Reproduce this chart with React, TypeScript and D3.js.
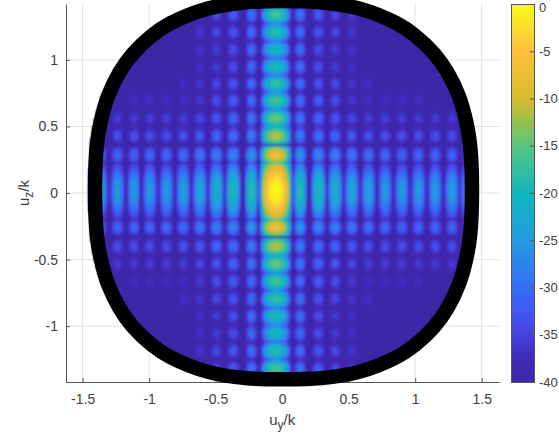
import React, { useEffect, useRef } from 'react';
import * as d3 from 'd3';

const width = 559;
const height = 441;
const margin = { top: 4, right: 60, bottom: 59, left: 66 };
const plotRight = 499;

const xTicks = [-1.5, -1, -0.5, 0, 0.5, 1, 1.5];
const yTicks = [-1, -0.5, 0, 0.5, 1];
const colorTicks = [0, -5, -10, -15, -20, -25, -30, -35, -40];

// colormap
const colorStopsDb = [-40, -37, -35, -32, -30, -25, -20, -15, -12, -10, -5, -2, 0];
const colorStops = [
  '#3e26a8', '#412dbe', '#4641e1', '#415af5', '#326ef5', '#239be1', '#0fb6be',
  '#55c582', '#a0c046', '#d7ba2d', '#fdbe3c', '#fae128', '#f9fb14',
];

// beam centre
const beamY = -0.046;
const beamZ = 0.014;

// lobe offsets from the beam centre
const lobeOffsetsY = [0, 0.183, 0.32, 0.445, 0.57, 0.695, 0.82, 0.945, 1.07, 1.195, 1.32, 1.43];
const lobeOffsetsZ = [0, 0.271, 0.414, 0.545, 0.677, 0.808, 0.94, 1.068, 1.199, 1.331];

// half widths of each lobe (null to peak)
const lobeWidthsY = [0.124, 0.056, 0.064, 0.064, 0.064, 0.064, 0.064, 0.064, 0.064, 0.064, 0.064, 0.064];
const lobeWidthsZ = [0.203, 0.07, 0.068, 0.066, 0.066, 0.066, 0.066, 0.066, 0.066, 0.066];

// peak level in dB, one row per lobeOffsetsZ entry, one column per lobeOffsetsY entry
const lobePeaks = [
  [0, -18, -19, -21, -23, -24, -25, -25, -25, -25, -24.5, -27],
  [-7, -25, -27, -28, -29, -30, -30.5, -31, -31, -31, -31, -38],
  [-11, -28, -30, -31, -32.5, -33.5, -34, -34, -34, -34, -34, -40],
  [-14, -29, -31, -33, -35, -36.5, -36.5, -36.5, -37, -37, -37, -40],
  [-16, -30, -32, -34, -37.5, -39.5, -39.5, -39.5, -39.5, -40, -40, -40],
  [-17, -30, -33, -35, -38, -39.5, -40, -40, -40, -40, -40, -40],
  [-19, -30, -34, -37, -39, -40, -40, -40, -40, -40, -40, -40],
  [-20, -30, -34, -37, -39, -40, -40, -40, -40, -40, -40, -40],
  [-18, -30, -33, -35, -38, -40, -40, -40, -40, -40, -40, -40],
  [-16, -29, -32, -35, -37, -39, -40, -40, -40, -40, -40, -40],
];
const floorDb = -40;

// visible-region outline, one quadrant from the top to the right edge
const ringCenterY = 0.01;
const ringCenterZ = 0.021;
const ringQuarterY = [0, 0.283, 0.567, 0.85, 0.992, 1.134, 1.233, 1.318, 1.374, 1.403, 1.417];
const ringQuarterZ = [1.421, 1.412, 1.365, 1.254, 1.16, 1.024, 0.885, 0.708, 0.514, 0.337, 0];

const ringPoints = () => {
  const n = ringQuarterY.length;
  const pts: [number, number][] = [];
  for (let i = 0; i < n; i++) pts.push([ringCenterY + ringQuarterY[i], ringCenterZ + ringQuarterZ[i]]);
  for (let i = n - 2; i >= 0; i--) pts.push([ringCenterY + ringQuarterY[i], ringCenterZ - ringQuarterZ[i]]);
  for (let i = 1; i < n; i++) pts.push([ringCenterY - ringQuarterY[i], ringCenterZ - ringQuarterZ[i]]);
  for (let i = n - 2; i >= 1; i--) pts.push([ringCenterY - ringQuarterY[i], ringCenterZ + ringQuarterZ[i]]);
  return pts;
};

// level at one point of the plane, adding the lobes in power
const levelAt = (uy: number, uz: number) => {
  let power = Math.pow(10, floorDb / 10);
  const dy = Math.abs(uy - beamY);
  const dz = Math.abs(uz - beamZ);
  lobeOffsetsZ.forEach((oz, r) => {
    const fz = Math.abs(dz - oz) / lobeWidthsZ[r];
    if (fz >= 1) return;
    const az = 0.3 + 0.7 * Math.pow(Math.cos((fz * Math.PI) / 2), 1.4);
    lobeOffsetsY.forEach((oy, c) => {
      if (lobePeaks[r][c] <= floorDb) return;
      const fy = Math.abs(dy - oy) / lobeWidthsY[c];
      if (fy >= 1) return;
      const ay = 0.02 + 0.98 * Math.pow(Math.cos((fy * Math.PI) / 2), 1.4);
      power += Math.pow(10, lobePeaks[r][c] / 10) * (az * ay) * (az * ay);
    });
  });
  return 10 * Math.log10(power);
};

const App = () => {
  const svgRef = useRef<SVGSVGElement>(null);

  useEffect(() => {
    const svg = d3.select(svgRef.current);
    svg.selectAll('*').remove();

    const x = d3.scaleLinear().domain([-1.625, 1.63]).range([margin.left, plotRight]);
    const y = d3.scaleLinear().domain([-1.42, 1.42]).range([height - margin.bottom, margin.top]);
    const color = d3.scaleLinear<string>().domain(colorStopsDb).range(colorStops).clamp(true);
    const fontFamily = '"Liberation Sans", Arial, sans-serif';
    const textColor = '#404040';
    const bottom = height - margin.bottom;

    svg.append('filter').attr('id', 'soft')
      .attr('filterUnits', 'userSpaceOnUse')
      .attr('x', 0).attr('y', 0).attr('width', width).attr('height', height)
      .append('feGaussianBlur').attr('stdDeviation', 0.9);

    // grid
    const grid = svg.append('g').attr('stroke', '#e1e1e1').attr('stroke-width', 1);
    xTicks.forEach(t => {
      grid.append('line').attr('x1', x(t)).attr('x2', x(t)).attr('y1', margin.top).attr('y2', bottom);
    });
    yTicks.forEach(t => {
      grid.append('line').attr('x1', margin.left).attr('x2', plotRight).attr('y1', y(t)).attr('y2', y(t));
    });

    // pattern cells, kept inside the visible region
    const ring = ringPoints();
    const shifted = ring.map(p => [p[0] - 0.055, p[1]] as [number, number]);
    const step = 0.015;
    const cells = svg.append('g').attr('filter', 'url(#soft)').attr('shape-rendering', 'crispEdges');
    d3.range(-1.56, 1.5, step).forEach(uy => {
      d3.range(-1.44, 1.48, step).forEach(uz => {
        if (!d3.polygonContains(ring, [uy, uz]) && !d3.polygonContains(shifted, [uy, uz])) return;
        cells.append('rect')
          .attr('x', x(uy - step / 2))
          .attr('y', y(uz + step / 2))
          .attr('width', x(step) - x(0) + 0.3)
          .attr('height', y(0) - y(step) + 0.3)
          .attr('fill', color(levelAt(uy, uz)));
      });
    });

    // axes
    const styleAxis = (g: any, size = 14) => {
      g.selectAll('path').attr('stroke', '#555').attr('stroke-width', 1);
      g.selectAll('line').attr('stroke', '#555');
      g.selectAll('text').attr('fill', textColor).attr('font-size', size).attr('font-family', fontFamily);
    };
    svg.append('g')
      .attr('transform', `translate(0, ${bottom})`)
      .call(d3.axisBottom(x).tickValues(xTicks).tickSizeInner(-4).tickSizeOuter(0).tickPadding(12).tickFormat(d => String(d)))
      .call(styleAxis);
    svg.append('g')
      .attr('transform', `translate(${margin.left}, 0)`)
      .call(d3.axisLeft(y).tickValues(yTicks).tickSizeInner(-4).tickSizeOuter(0).tickPadding(8).tickFormat(d => String(d)))
      .call(styleAxis);

    // ring on top of everything in the plot
    svg.append('path')
      .datum(ring)
      .attr('fill', 'none')
      .attr('stroke', '#000')
      .attr('stroke-width', 14.5)
      .attr('d', d3.line<[number, number]>().x(d => x(d[0])).y(d => y(d[1])).curve(d3.curveCatmullRomClosed));

    // colorbar
    const barLeft = 511;
    const barRight = 534;
    const barY = d3.scaleLinear().domain([-40, 0]).range([bottom, margin.top]);
    const bar = svg.append('g').attr('shape-rendering', 'crispEdges');
    d3.range(-40, 0, 0.25).forEach(v => {
      bar.append('rect')
        .attr('x', barLeft).attr('width', barRight - barLeft)
        .attr('y', barY(v + 0.25)).attr('height', barY(v) - barY(v + 0.25) + 1)
        .attr('fill', color(v + 0.125));
    });
    bar.append('rect')
      .attr('x', barLeft).attr('y', margin.top)
      .attr('width', barRight - barLeft).attr('height', bottom - margin.top)
      .attr('fill', 'none').attr('stroke', '#555');
    svg.append('g')
      .attr('transform', `translate(${barRight}, 0)`)
      .call(d3.axisRight(barY).tickValues(colorTicks).tickSizeInner(-4).tickSizeOuter(0).tickPadding(5).tickFormat(d => String(d)))
      .call(styleAxis, 13)
      .call((g: any) => {
        g.select('path').remove();
        // keep the top label inside the page
        g.selectAll('text').filter((d: any) => d === 0).attr('dy', '0.85em').attr('y', -4);
      });

    // axis labels
    const label = (sel: any, sub: string) => {
      sel.attr('fill', textColor).attr('font-size', 15).attr('font-family', fontFamily).attr('text-anchor', 'middle');
      sel.append('tspan').text('u');
      sel.append('tspan').attr('font-size', 12).attr('dy', 4).text(sub);
      sel.append('tspan').attr('dy', -4).text('/k');
    };
    svg.append('text').attr('x', x(0)).attr('y', 425).call(label, 'y');
    svg.append('text')
      .attr('transform', `translate(29, ${y(0)}) rotate(-90)`)
      .call(label, 'z');
  }, []);

  return (
    <svg
      ref={svgRef}
      width={width}
      height={height}
      style={{ position: 'absolute', left: 0, top: 0, display: 'block', background: '#fff' }}
    />
  );
};

export default App;
